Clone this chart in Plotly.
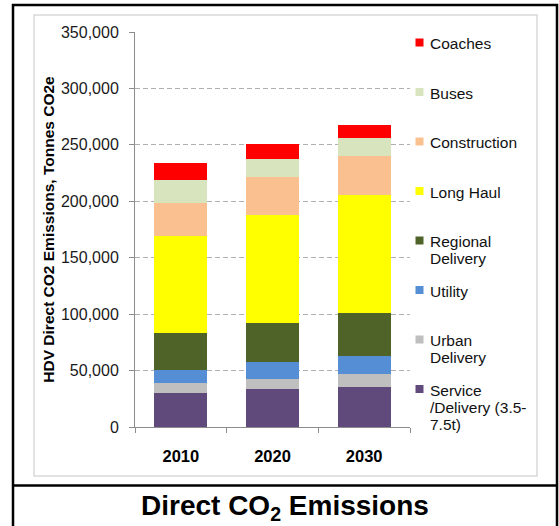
import plotly.graph_objects as go

# ---------------- data ----------------
years = ["2010", "2020", "2030"]
series_names = ["Service /Delivery (3.5-7.5t)", "Urban Delivery", "Utility",
                "Regional Delivery", "Long Haul", "Construction", "Buses", "Coaches"]
service = [30300, 33250, 35400]
urban = [8600, 9450, 11700]
utility = [11500, 15300, 15900]
regional = [33000, 34500, 37800]
long_haul = [85800, 95500, 104600]
construction = [29400, 33100, 34800]
buses = [20100, 16400, 15600]
coaches = [15300, 13000, 12200]
series_values = [service, urban, utility, regional, long_haul, construction, buses, coaches]
colors = ["#604A7B", "#BFBFBF", "#558ED5", "#4F6228", "#FFFF00", "#FAC090", "#D7E4BD", "#FF0000"]
legend_lines = [["Service", "/Delivery (3.5-", "7.5t)"], ["Urban", "Delivery"], ["Utility"],
                ["Regional", "Delivery"], ["Long Haul"], ["Construction"], ["Buses"], ["Coaches"]]
y_ticks = [0, 50000, 100000, 150000, 200000, 250000, 300000, 350000]
y_title = "HDV Direct CO2 Emissions, Tonnes CO2e"
chart_title = "Direct CO<sub>2</sub> Emissions"

# ---------------- layout helpers ----------------
W, H = 559, 526
ML, MR, MT, MB = 135, 149, 32, 99
PW, PH = W - ML - MR, H - MT - MB
FONT = "Arial, Liberation Sans, sans-serif"


def px(x):
    return (x - ML) / PW


def py(y):
    return (H - MB - y) / PH


fig = go.Figure()
for name, vals, col in zip(series_names, series_values, colors):
    fig.add_trace(go.Bar(x=years, y=vals, name=name, marker=dict(color=col, line=dict(width=0)),
                         showlegend=False))

shapes = []
annotations = []

# outer frame, separator, inner chart border
shapes.append(dict(type="rect", xref="paper", yref="paper", x0=px(13), x1=px(557), y0=py(540), y1=py(5),
                   line=dict(color="black", width=2.5), layer="above"))
shapes.append(dict(type="line", xref="paper", yref="paper", x0=px(13), x1=px(557), y0=py(485.5), y1=py(485.5),
                   line=dict(color="black", width=2.5)))
shapes.append(dict(type="rect", xref="paper", yref="paper", x0=px(34), x1=px(537), y0=py(476), y1=py(15),
                   line=dict(color="#D9D9D9", width=1.5), layer="below"))

# manual legend (Excel-like equal slots), top entry = last series
order = list(range(len(series_names)))[::-1]
for slot, idx in enumerate(order):
    yc = 43.5 + slot * 49.5
    shapes.append(dict(type="rect", xref="paper", yref="paper",
                       x0=px(415.5), x1=px(423.5), y0=py(yc + 3), y1=py(yc - 5),
                       fillcolor=colors[idx], line=dict(width=0)))
    for k, line in enumerate(legend_lines[idx]):
        annotations.append(dict(xref="paper", yref="paper", x=px(427.5), y=py(yc + k * 17),
                                xanchor="left", yanchor="middle", text=line, showarrow=False,
                                font=dict(family=FONT, size=15.5, color="#111111")))

# bottom title
annotations.append(dict(xref="paper", yref="paper", x=px(285), y=py(507), xanchor="center", yanchor="middle",
                        text=chart_title, showarrow=False,
                        font=dict(family=FONT, size=28, color="black", weight="bold")))

fig.update_layout(
    width=W, height=H,
    margin=dict(l=ML, r=MR, t=MT, b=MB),
    barmode="stack", bargap=0.42,
    plot_bgcolor="white", paper_bgcolor="white",
    showlegend=False,
    shapes=shapes, annotations=annotations,
    font=dict(family=FONT, color="#111111"),
)
fig.update_yaxes(
    range=[0, 350000], tickvals=y_ticks, tickformat=",d",
    showgrid=True, gridcolor="#B0B0B0", griddash="5px,3px", gridwidth=1,
    zeroline=False, showline=True, linecolor="#8C8C8C", linewidth=1,
    ticks="outside", ticklen=5, tickcolor="#8C8C8C",
    tickfont=dict(family=FONT, size=16, color="#1a1a1a"), ticklabelstandoff=7,
    title=dict(text=y_title, standoff=2, font=dict(family=FONT, size=15.5, color="black", weight="bold")),
)
fig.update_xaxes(
    type="category", showgrid=False, zeroline=False, showline=True, linecolor="#8C8C8C", linewidth=1,
    ticks="outside", ticklen=5, tickcolor="#8C8C8C", tickson="boundaries",
    tickfont=dict(family=FONT, size=16.5, color="black", weight="bold"), ticklabelstandoff=14,
)

fig.write_html("out.html")
